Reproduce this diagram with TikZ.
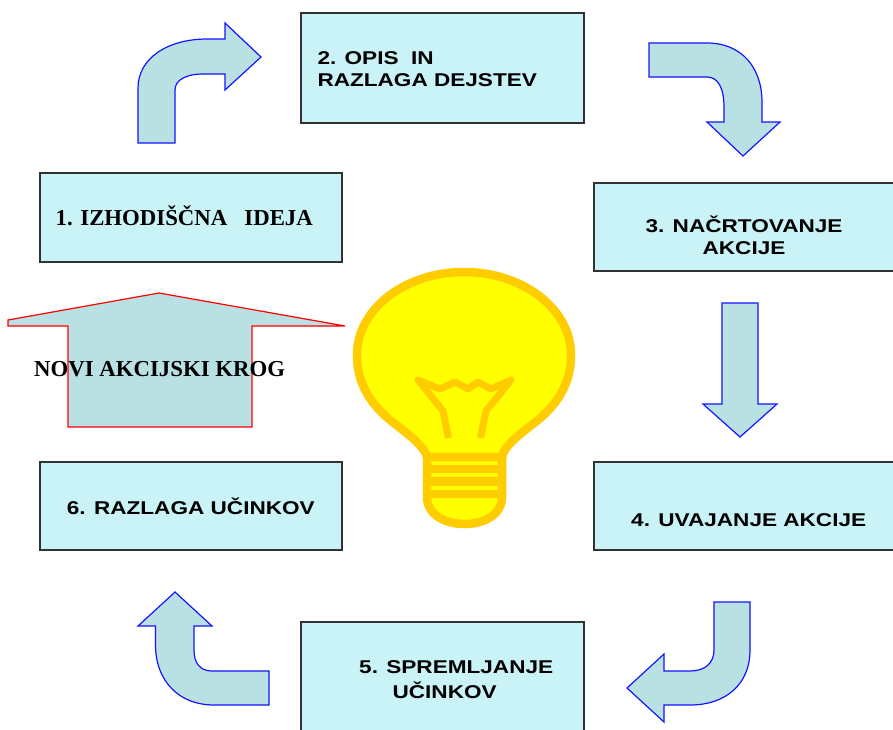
\documentclass[tikz,border=0pt]{standalone}
\usepackage{fontspec}
\setmainfont{Liberation Serif}
\newfontfamily\boxsans[FakeStretch=1.22]{Liberation Sans}
\definecolor{boxfill}{RGB}{202,243,247}
\definecolor{boxline}{RGB}{50,50,50}
\definecolor{arrowfill}{RGB}{185,224,227}
\definecolor{arrowline}{RGB}{20,20,255}
\definecolor{bulbyellow}{RGB}{255,255,0}
\definecolor{bulborange}{RGB}{255,204,0}

\begin{document}
\begin{tikzpicture}[x=1pt,y=-1pt,
  box/.style={draw=boxline,line width=1.3pt,fill=boxfill,inner sep=0pt},
  sanslabel/.style={inner sep=0pt,font=\boxsans\bfseries\fontsize{18.5}{22}\selectfont},
  serlabel/.style={inner sep=0pt,font=\bfseries\fontsize{22.8}{26}\selectfont},
  blockarrow/.style={fill=arrowfill,draw=arrowline,line width=1.2pt,line join=miter},
  house/.style={fill=arrowfill,draw=red,line width=1.2pt},
  glass/.style={fill=bulbyellow,draw=bulborange,line width=8.5pt}]
  \useasboundingbox (0,0) rectangle (893,729);

  % Boxes of the action cycle
  \node[box,minimum width=302pt,minimum height=89pt] (idea) at (191,217.5) {};
  \node[box,minimum width=283pt,minimum height=110pt] (opis) at (442.5,68) {};
  \node[box,minimum width=310pt,minimum height=88pt] (nacrt) at (749,227) {};
  \node[box,minimum width=310pt,minimum height=88pt] (uvajanje) at (749,506) {};
  \node[box,minimum width=283pt,minimum height=118pt] (spremljanje) at (442.5,681) {};
  \node[box,minimum width=302pt,minimum height=88pt] (razlaga) at (191,506) {};

  % Block arrows between the boxes
  \draw[blockarrow] (138,143) -- (138,88) .. controls (138,58) and (168,39) .. (207,39)
    -- (225,39) -- (225,23) -- (261,57) -- (225,90) -- (225,74) -- (203,74)
    .. controls (186,74) and (175,80) .. (175,90) -- (175,143) -- cycle;
  \draw[blockarrow] (649,43) -- (707,43) .. controls (742,43) and (762,68) .. (762,102)
    -- (762,122) -- (780,122) -- (743,156) -- (707,122) -- (724,122) -- (724,107)
    .. controls (724,88) and (718,77) .. (707,77) -- (649,77) -- cycle;
  \draw[blockarrow] (722,303) -- (758,303) -- (758,404) -- (777,404) -- (740,437)
    -- (703,404) -- (722,404) -- cycle;
  \draw[blockarrow] (714,602) -- (750,602) -- (750,650) .. controls (750,685) and (725,705) .. (690,705)
    -- (664,705) -- (664,722) -- (627,688) -- (664,654) -- (664,671) -- (690,671)
    .. controls (705,671) and (714,663) .. (714,650) -- cycle;
  \draw[blockarrow] (269,671) -- (269,705) -- (214,705) .. controls (178,705) and (155.5,680) .. (155.5,645)
    -- (155.5,626) -- (138,626) -- (175,592) -- (212,626) -- (194,626) -- (194,650)
    .. controls (194,663) and (200,671) .. (212,671) -- cycle;

  % New cycle arrow
  \draw[house] (8,320) -- (159,293) -- (345,326) -- (252,326) -- (252,427)
    -- (68,427) -- (68,326) -- (8,326) -- cycle;

  % Light bulb
  \draw[glass] (427,457) .. controls (424,445) and (405,432) .. (390,420)
    .. controls (372,405) and (357,385) .. (357,355)
    .. controls (357,309) and (405,272) .. (464,272)
    .. controls (523,272) and (571,309) .. (571,355)
    .. controls (571,385) and (556,405) .. (538,420)
    .. controls (523,432) and (504,445) .. (502,457) -- cycle;
  \draw[glass] (427,457) -- (427,497) .. controls (427,514) and (444,524) .. (464.5,524)
    .. controls (485,524) and (502,514) .. (502,497) -- (502,457) -- cycle;
  \fill[bulborange] (427,465) rectangle (502,473.3);
  \fill[bulborange] (427,477.3) rectangle (502,486);
  \fill[bulborange] (427,490) rectangle (502,498.3);
  \draw[bulborange,line width=7pt,line join=round] (448.5,438) -- (443,411) -- (418,380)
    -- (440,389) -- (455,382) -- (468,389) -- (478,382) -- (491,389) -- (511,380)
    -- (486,411) -- (480.5,438);

  % Texts
  \node[serlabel,anchor=base west] (ideatext) at (55.5,225) {1. IZHODIŠČNA\ \ \ IDEJA};
  \node[sanslabel,anchor=base west,align=left] (opistext) at (317.3,86) {2. OPIS\ \ IN\\RAZLAGA DEJSTEV};
  \node[sanslabel,anchor=base,align=center] (nacrttext) at (744,254) {3. NAČRTOVANJE\\AKCIJE};
  \node[sanslabel,anchor=base west] (uvajanjetext) at (631,526.7) {4. UVAJANJE AKCIJE};
  \node[sanslabel,anchor=base west,align=left,font=\boxsans\bfseries\fontsize{18.5}{25}\selectfont]
    (spremljanjetext) at (359,698.3) {5. SPREMLJANJE\\\hspace*{33.4pt}UČINKOV};
  \node[sanslabel,anchor=base west] (razlagatext) at (66.7,514.7) {6. RAZLAGA UČINKOV};
  \node[serlabel,anchor=base west] (novitext) at (34,376.7) {NOVI AKCIJSKI KROG};
\end{tikzpicture}
\end{document}
